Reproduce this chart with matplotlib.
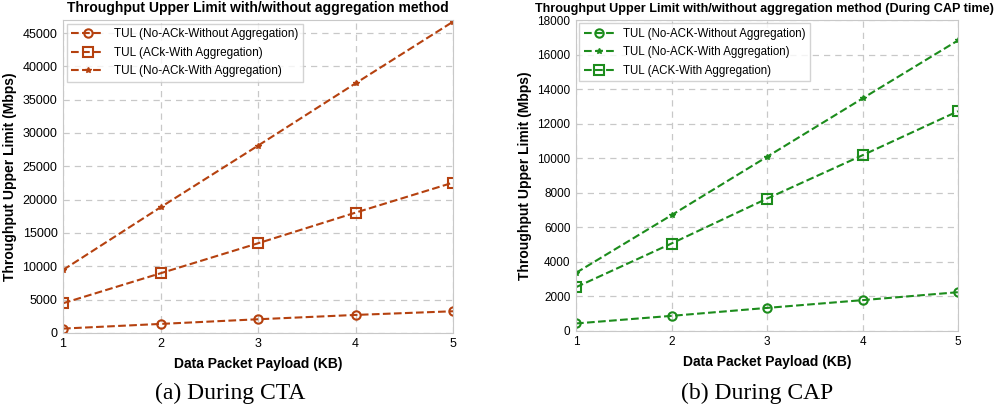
import matplotlib
matplotlib.use('Agg')
import matplotlib.pyplot as plt

plt.rcParams['font.family'] = ['Liberation Sans', 'DejaVu Sans']

payload = [1, 2, 3, 4, 5]

# (a) During CTA
cta_noack_noagg = [650, 1350, 2050, 2700, 3250]
cta_ack_agg = [4450, 8950, 13450, 18050, 22550]
cta_noack_agg = [9450, 18850, 28100, 37450, 46700]

# (b) During CAP
cap_noack_noagg = [430, 870, 1330, 1780, 2240]
cap_noack_agg = [3360, 6700, 10080, 13460, 16820]
cap_ack_agg = [2530, 5060, 7660, 10170, 12720]

brown = '#B5410F'
green = '#1C8C1C'

fig = plt.figure(figsize=(10, 4.09), dpi=100)
ax1 = fig.add_axes([0.063, 0.186, 0.390, 0.765])
ax2 = fig.add_axes([0.576, 0.191, 0.382, 0.760])

def style(ax):
    for s in ax.spines.values():
        s.set_color('#c8c8c8')
    ax.grid(True, linestyle=(0, (5, 4)), color='#c8c8c8', linewidth=0.9)
    ax.tick_params(length=0, labelsize=9, pad=4)
    ax.set_xticks(payload)
    ax.set_xlim(1, 5)
    ax.set_xlabel('Data Packet Payload (KB)', fontsize=10, fontweight='bold', labelpad=5)
    ax.set_ylabel('Throughput Upper Limit (Mbps)', fontsize=10, fontweight='bold', labelpad=4)

ax1.plot(payload, cta_noack_noagg, '--o', color=brown, mfc='none', ms=6, mew=1.5, lw=1.5,
         label='TUL (No-ACk-Without Aggregation)')
ax1.plot(payload, cta_ack_agg, '--s', color=brown, mfc='none', ms=7, mew=1.5, lw=1.5,
         label='TUL (ACk-With Aggregation)')
ax1.plot(payload, cta_noack_agg, '--*', color=brown, ms=4, lw=1.5,
         label='TUL (No-ACk-With Aggregation)')
style(ax1)
ax1.set_ylim(0, 46950)
ax1.set_yticks(range(0, 45001, 5000))
ax1.set_title('Throughput Upper Limit with/without aggregation method', fontsize=10,
              fontweight='bold', pad=6)
ax1.legend(loc='upper left', fontsize=8.5, fancybox=False, edgecolor='#c8c8c8',
           handlelength=2.8, labelspacing=0.55, borderaxespad=0.3)

ax2.plot(payload, cap_noack_noagg, '--o', color=green, mfc='none', ms=6, mew=1.5, lw=1.5,
         label='TUL (No-ACK-Without Aggregation)')
ax2.plot(payload, cap_noack_agg, '--*', color=green, ms=4, lw=1.5,
         label='TUL (No-ACK-With Aggregation)')
ax2.plot(payload, cap_ack_agg, '--s', color=green, mfc='none', ms=7, mew=1.5, lw=1.5,
         label='TUL (ACK-With Aggregation)')
style(ax2)
ax2.tick_params(labelsize=8.5)
ax2.set_ylim(0, 18000)
ax2.set_yticks(range(0, 18001, 2000))
ax2.set_title('Throughput Upper Limit with/without aggregation method (During CAP time)',
              fontsize=9.1, fontweight='bold', pad=6, x=0.492)
ax2.legend(loc='upper left', fontsize=8.3, fancybox=False, edgecolor='#c8c8c8',
           handlelength=2.6, labelspacing=0.55, borderaxespad=0.3)

fig.text(0.230, 0.024, '(a) During CTA', family='Liberation Serif', fontsize=17, ha='center')
fig.text(0.757, 0.024, '(b) During CAP', family='Liberation Serif', fontsize=17, ha='center')

fig.savefig('out.png', dpi=100)
